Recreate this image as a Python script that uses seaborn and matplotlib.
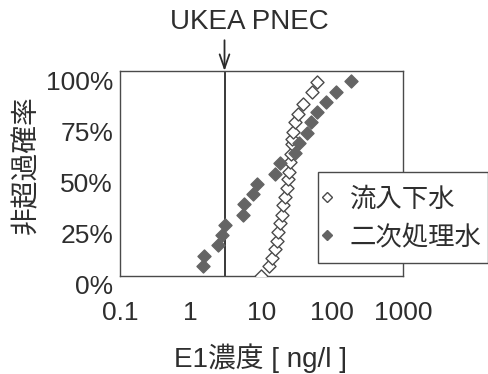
import numpy as np
import pandas as pd
import matplotlib
matplotlib.use("Agg")
import matplotlib.pyplot as plt
import matplotlib.transforms as mtransforms
from matplotlib.lines import Line2D
from matplotlib.patches import Rectangle
import seaborn as sns

# Influent sewage: E1 concentration [ng/l] and non-exceedance probability [%]
influent_conc = [9.8, 12.8, 14.3, 15.5, 16.4, 17.2, 18.2, 19.3, 20.3, 21.4, 22.6, 23.9,
                 24.4, 25.2, 26.0, 26.6, 27.3, 28.2, 29.6, 33.0, 38.8, 50.9, 59.9]
influent_prob = [0.0, 4.9, 9.0, 13.2, 17.3, 21.5, 25.7, 30.0, 34.4, 38.5, 42.8, 47.1,
                 50.7, 55.6, 59.5, 64.4, 66.8, 70.2, 75.1, 79.0, 83.9, 89.8, 94.6]

# Secondary treated effluent
effluent_conc = [1.50, 1.55, 2.40, 2.75, 3.06, 5.49, 5.67, 7.47, 8.56, 15.5,
                 18.5, 29.6, 33.8, 43.7, 50.6, 60.5, 81.0, 114.0, 182.0]
effluent_prob = [5, 10, 15, 20, 25, 30, 35, 40, 45, 50,
                 55, 60, 65, 70, 75, 80, 85, 90, 95]

series_names = ["流入下水", "二次処理水"]
pnec = 3.0
x_ticks = [0.1, 1, 10, 100, 1000]
x_ticklabels = ["0.1", "1", "10", "100", "1000"]
y_ticks = [0, 25, 50, 75, 100]
y_ticklabels = ["0%", "25%", "50%", "75%", "100%"]

sns.set_theme(style="white")
plt.rcParams["font.family"] = ["Liberation Sans", "Noto Sans CJK JP"]
ink = "#2e2e2e"
edge = "#4a4a4a"
fill = "#646464"
plt.rcParams["text.color"] = ink

W, H = 489, 374
fig = plt.figure(figsize=(W / 100, H / 100), dpi=100)
ax = fig.add_axes([120 / W, 1 - 276 / H, 283 / W, 205 / H])

df_in = pd.DataFrame({"conc": influent_conc, "prob": influent_prob})
df_ef = pd.DataFrame({"conc": effluent_conc, "prob": effluent_prob})

sns.scatterplot(data=df_in, x="conc", y="prob", marker="D", s=44, color=edge,
                facecolor="white", edgecolor=edge, linewidth=1.0, ax=ax, zorder=3)
sns.scatterplot(data=df_ef, x="conc", y="prob", marker="D", s=44, color=fill,
                facecolor=fill, edgecolor=fill, linewidth=1.0, ax=ax, zorder=4)

ax.set_xscale("log")
ax.set_xlim(0.1, 1000)
ax.set_ylim(0, 100)
ax.set_xticks(x_ticks)
ax.set_xticklabels(x_ticklabels)
ax.xaxis.set_minor_locator(matplotlib.ticker.NullLocator())
ax.set_yticks(y_ticks)
ax.set_yticklabels(y_ticklabels)

ax.tick_params(axis="both", direction="in", length=6, width=1, color=edge,
               labelsize=19, labelcolor=ink)
ax.tick_params(axis="x", pad=18)
ax.tick_params(axis="y", pad=5)

# y tick labels sit slightly below their ticks
shift = mtransforms.ScaledTranslation(0, -0.09, fig.dpi_scale_trans)
for lab in ax.get_yticklabels():
    lab.set_transform(lab.get_transform() + shift)

for sp in ax.spines.values():
    sp.set_visible(True)
    sp.set_color(edge)
    sp.set_linewidth(1.0)

ax.set_xlabel("E1濃度 [ ng/l ]", fontsize=20, color=ink)
ax.xaxis.label.set_va("center")
ax.xaxis.set_label_coords(261 / W, 1 - 358 / H, transform=fig.transFigure)
ax.set_ylabel("非超過確率", fontsize=20, color=ink)
ax.yaxis.set_label_coords(40 / W, 1 - 165 / H, transform=fig.transFigure)

# PNEC reference line and arrow
ax.axvline(pnec, color="#2a2a2a", lw=1.3, zorder=2)
ax.annotate("", xy=(pnec, 1.0), xycoords=("data", "axes fraction"),
            xytext=(pnec, 1.15), textcoords=("data", "axes fraction"),
            arrowprops=dict(arrowstyle="->,head_length=1.0,head_width=0.35",
                            color="#2a2a2a", lw=1.3, mutation_scale=10,
                            shrinkA=0, shrinkB=0),
            annotation_clip=False)
fig.text(249 / W, 1 - 22 / H, "UKEA PNEC", ha="center", va="center",
         fontsize=20, color=ink)

# Legend box, partly outside the plotting area
box = Rectangle((318 / W, 1 - 263 / H), 170 / W, 91 / H, transform=fig.transFigure,
                facecolor="white", edgecolor=edge, linewidth=1.0,
                clip_on=False, zorder=6)
ax.add_artist(box)

handles = [
    Line2D([], [], ls="none", marker="D", ms=5.5, mfc="white", mec=edge, mew=1.0),
    Line2D([], [], ls="none", marker="D", ms=5.5, mfc=fill, mec=fill, mew=1.0),
]
leg = ax.legend(handles, series_names, loc="upper left",
                bbox_to_anchor=(322 / W, 1 - 187 / H),
                bbox_transform=fig.transFigure, fontsize=19, frameon=False,
                handlelength=0.35, handletextpad=0.7, borderpad=0,
                labelspacing=0.5, borderaxespad=0)
leg.set_zorder(7)
for t in leg.get_texts():
    t.set_color(ink)

fig.savefig("out.png", dpi=100, facecolor="white")
